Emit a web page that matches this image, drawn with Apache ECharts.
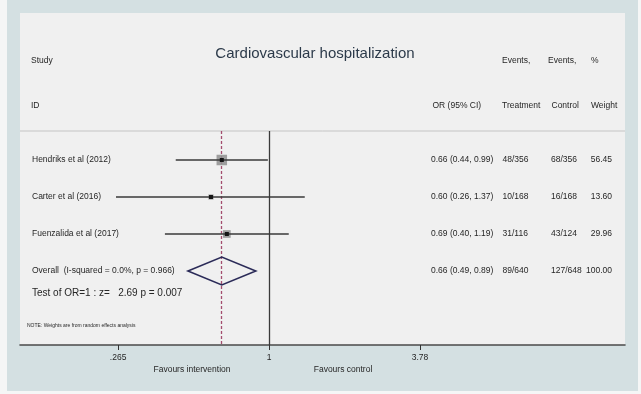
<!DOCTYPE html>
<html>
<head>
<meta charset="utf-8">
<script src="https://cdn.jsdelivr.net/npm/echarts@6/dist/echarts.min.js"></script>
<style>html,body{margin:0;padding:0;background:#f5f6f6;}#chart{width:641px;height:394px;}</style>
</head>
<body>
<div id="chart"></div>
<script>
// ---- data ----
const studies = ['Hendriks et al (2012)', 'Carter et al (2016)', 'Fuenzalida et al (2017)'];
const orValues = [0.66, 0.60, 0.69];
const ciLow = [0.44, 0.26, 0.40];
const ciHigh = [0.99, 1.37, 1.19];
const eventsTreatment = ['48/356', '10/168', '31/116'];
const eventsControl = ['68/356', '16/168', '43/124'];
const weights = [56.45, 13.60, 29.96];

const overallLabel = 'Overall  (I-squared = 0.0%, p = 0.966)';
const overallOR = 0.66;
const overallLow = 0.49;
const overallHigh = 0.89;
const overallTreatment = '89/640';
const overallControl = '127/648';
const overallWeight = 100.00;

const tickValues = [0.265, 1, 3.78];
const tickLabels = ['.265', '1', '3.78'];

const FONT = '"Liberation Sans", Arial, sans-serif';
const TXT = '#262626';

function fmtCI(o, l, h) { return o.toFixed(2) + ' (' + l.toFixed(2) + ', ' + h.toFixed(2) + ')'; }

// rows: 1..3 studies, 4 overall
const studyData = studies.map((s, i) => [Math.log(orValues[i]), Math.log(ciLow[i]), Math.log(ciHigh[i]), i + 1, weights[i], i]);
const overallData = [[Math.log(overallOR), Math.log(overallLow), Math.log(overallHigh), studies.length + 1, overallWeight]];

function rowTexts(y, name, ci, tr, ct, w) {
  const st = (x, text, align) => ({
    type: 'text', x: x, y: y,
    style: { text: text, fill: TXT, font: '8.5px ' + FONT, textAlign: align || 'left', textVerticalAlign: 'middle' }
  });
  return [st(32, name), st(431, ci), st(502.5, tr), st(551, ct), st(612, w, 'right')];
}

const chart = echarts.init(document.getElementById('chart'));

const headerText = (x, y, t, size, color, align) => ({
  type: 'text', x: x, y: y, z: 10,
  style: { text: t, fill: color || TXT, font: (size || 8.5) + 'px ' + FONT, textAlign: align || 'left', textVerticalAlign: 'middle' }
});

const option = {
  animation: false,
  backgroundColor: '#f5f6f6',
  grid: { left: 20, right: 16, top: 131, bottom: 49 },
  xAxis: {
    type: 'value',
    min: -2.1919, max: 3.1338,
    splitLine: { show: false },
    axisLine: { show: true, lineStyle: { color: '#4a4a4a', width: 1.6 } },
    axisTick: { show: true, length: 5, lineStyle: { color: '#333', width: 1 }, customValues: tickValues.map(Math.log) },
    axisLabel: {
      customValues: tickValues.map(Math.log),
      margin: 8,
      fontSize: 8.5, fontFamily: FONT, color: TXT,
      formatter: function (v) {
        let best = 0, bd = 1e9;
        tickValues.forEach((t, i) => { const d = Math.abs(Math.log(t) - v); if (d < bd) { bd = d; best = i; } });
        return tickLabels[best];
      }
    }
  },
  yAxis: { type: 'value', inverse: true, min: 0.216, max: 6.0, show: false },
  graphic: [
    { type: 'rect', z: -10, shape: { x: 7, y: 0, width: 631, height: 391 }, style: { fill: '#d4e0e2' } },
    { type: 'rect', z: -9, shape: { x: 20, y: 13, width: 605, height: 332 }, style: { fill: '#f0f0f0' } },
    { type: 'line', z: -8, shape: { x1: 20, y1: 131, x2: 625, y2: 131 }, style: { stroke: '#c4c4c4', lineWidth: 1 } },
    headerText(315, 54, 'Cardiovascular hospitalization', 15, '#2c3a4a', 'center'),
    headerText(31, 60.5, 'Study'),
    headerText(31, 105.5, 'ID'),
    headerText(502, 60.5, 'Events,'),
    headerText(548, 60.5, 'Events,'),
    headerText(591, 60.5, '%'),
    headerText(432.5, 105.5, 'OR (95% CI)'),
    headerText(502, 105.5, 'Treatment'),
    headerText(551.5, 105.5, 'Control'),
    headerText(591, 105.5, 'Weight'),
    headerText(32, 293, 'Test of OR=1 : z=   2.69 p = 0.007', 10),
    headerText(27, 326, 'NOTE: Weights are from random effects analysis', 5),
    headerText(192, 370, 'Favours intervention', 8.5, TXT, 'center'),
    headerText(343, 370, 'Favours control', 8.5, TXT, 'center')
  ],
  series: [
    {
      type: 'custom',
      data: studyData,
      z: 5,
      renderItem: function (params, api) {
        const row = api.value(3);
        const c = api.coord([api.value(0), row]);
        const l = api.coord([api.value(1), row]);
        const h = api.coord([api.value(2), row]);
        const size = 1.4 * Math.sqrt(api.value(4));
        const i = api.value(5);
        return {
          type: 'group',
          children: [
            { type: 'rect', shape: { x: c[0] - size / 2, y: c[1] - size / 2, width: size, height: size }, style: { fill: '#8f8f8f', opacity: 0.85 } },
            { type: 'line', shape: { x1: l[0], y1: l[1], x2: h[0], y2: h[1] }, style: { stroke: '#3a3a3a', lineWidth: 1.6 } },
            { type: 'rect', shape: { x: c[0] - 2, y: c[1] - 2, width: 4, height: 4 }, style: { fill: '#151515' } }
          ].concat(rowTexts(c[1], studies[i], fmtCI(orValues[i], ciLow[i], ciHigh[i]), eventsTreatment[i], eventsControl[i], weights[i].toFixed(2)))
        };
      },
      markLine: {
        silent: true, symbol: 'none', label: { show: false },
        lineStyle: { color: '#3a3a3a', width: 1.3, type: 'solid' },
        data: [
          { xAxis: 0 }
        ]
      }
    },
    {
      type: 'custom',
      data: overallData,
      z: 6,
      renderItem: function (params, api) {
        const row = api.value(3);
        const c = api.coord([api.value(0), row]);
        const l = api.coord([api.value(1), row]);
        const h = api.coord([api.value(2), row]);
        const hh = 14;
        return {
          type: 'group',
          children: [
            { type: 'polygon', shape: { points: [[l[0], c[1]], [c[0], c[1] - hh], [h[0], c[1]], [c[0], c[1] + hh]] }, style: { fill: 'none', stroke: '#2b2b58', lineWidth: 1.6 } }
          ].concat(rowTexts(c[1], overallLabel, fmtCI(overallOR, overallLow, overallHigh), overallTreatment, overallControl, overallWeight.toFixed(2)))
        };
      },
      markLine: {
        silent: true, symbol: 'none', label: { show: false },
        lineStyle: { color: '#a34d6e', width: 1.3, type: [3, 2] },
        data: [
          { xAxis: Math.log(overallOR) }
        ]
      }
    }
  ]
};
chart.setOption(option);
</script>
</body>
</html>
